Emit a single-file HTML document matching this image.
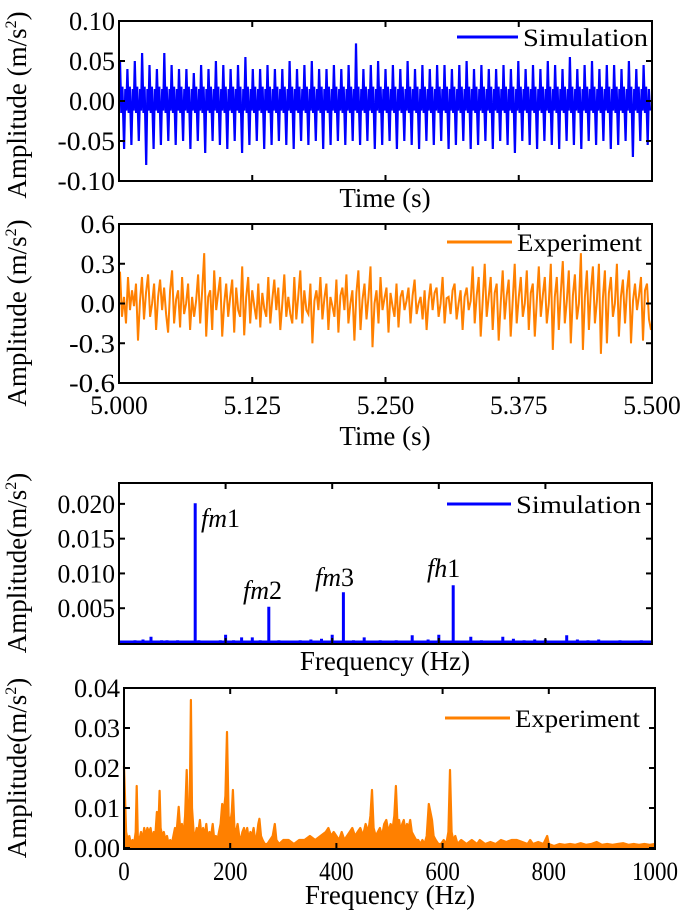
<!DOCTYPE html>
<html><head><meta charset="utf-8"><style>
body{margin:0;background:#fff}
svg text{font-family:"Liberation Serif",serif;fill:#000}
</style></head><body>
<svg id="chart" width="685" height="917" viewBox="0 0 685 917" xmlns="http://www.w3.org/2000/svg"></svg>
<script>
// ---- Data ----
const simPeaks=[0.05,0.04,0.05,0.06,0.045,0.04,0.06,0.045,0.04,0.04,0.035,0.045,0.04,0.05,0.045,0.04,0.045,0.055,0.04,0.04,0.045,0.04,0.04,0.05,0.04,0.045,0.05,0.04,0.04,0.045,0.04,0.045,0.072,0.04,0.045,0.05,0.04,0.045,0.04,0.05,0.04,0.045,0.04,0.045,0.045,0.04,0.045,0.05,0.04,0.045,0.04,0.04,0.045,0.04,0.05,0.04,0.045,0.04,0.05,0.045,0.04,0.055,0.04,0.045,0.05,0.04,0.045,0.045,0.04,0.05,0.04,0.045];
const simTroughs=[-0.06,-0.055,-0.05,-0.08,-0.06,-0.055,-0.05,-0.055,-0.05,-0.06,-0.05,-0.065,-0.05,-0.055,-0.06,-0.05,-0.065,-0.055,-0.05,-0.06,-0.055,-0.05,-0.055,-0.06,-0.05,-0.055,-0.05,-0.06,-0.055,-0.05,-0.055,-0.05,-0.055,-0.05,-0.06,-0.055,-0.05,-0.06,-0.05,-0.055,-0.06,-0.05,-0.055,-0.05,-0.06,-0.055,-0.05,-0.06,-0.055,-0.05,-0.06,-0.05,-0.055,-0.065,-0.05,-0.055,-0.06,-0.05,-0.055,-0.06,-0.05,-0.055,-0.06,-0.05,-0.055,-0.05,-0.06,-0.055,-0.05,-0.07,-0.05,-0.055];
const expValues=[0.24,-0.1,0.05,-0.15,0.2,-0.05,0.1,-0.02,0.15,-0.28,0.02,0.2,-0.12,0.08,0.22,-0.1,0.0,0.15,-0.2,0.05,0.18,-0.05,0.12,-0.08,-0.22,0.1,0.25,-0.15,0.03,0.1,-0.18,0.2,-0.08,0.0,0.15,-0.2,0.05,-0.1,0.02,0.22,-0.15,0.1,0.38,-0.25,0.05,0.1,-0.2,0.25,-0.05,0.08,0.2,-0.25,0.0,0.15,-0.1,0.05,0.18,-0.22,0.12,-0.05,-0.1,0.28,-0.24,0.05,0.2,-0.15,0.1,-0.02,-0.12,0.15,-0.18,0.08,-0.04,-0.1,0.2,-0.15,0.03,0.18,-0.05,0.12,-0.2,0.0,0.22,-0.1,0.05,-0.08,-0.15,0.2,-0.12,0.06,0.25,-0.15,0.1,-0.05,-0.08,0.15,-0.3,0.02,0.1,-0.05,0.2,-0.12,0.04,0.15,-0.2,0.05,-0.02,-0.1,0.18,-0.22,0.06,0.12,-0.05,0.22,-0.15,0.0,0.1,-0.28,0.08,0.25,-0.2,0.03,0.15,-0.12,0.05,0.28,-0.33,0.0,0.1,-0.15,0.2,-0.05,0.04,0.12,-0.22,0.08,-0.02,-0.1,0.15,-0.18,0.05,0.1,-0.05,0.02,0.12,-0.15,0.06,0.18,-0.08,0.0,0.05,-0.12,0.1,-0.2,0.02,0.15,-0.05,0.08,0.12,-0.1,0.0,0.2,-0.15,0.04,0.05,-0.08,0.1,0.15,-0.12,0.0,0.1,-0.2,0.05,0.12,-0.05,0.02,0.28,-0.15,0.06,0.2,-0.25,0.02,0.3,-0.1,0.05,0.2,-0.2,0.08,0.15,-0.28,0.0,0.25,-0.12,0.06,0.18,-0.25,0.02,0.3,-0.15,0.05,0.2,-0.1,0.0,0.25,-0.2,0.08,0.15,-0.25,0.02,0.28,-0.1,0.06,0.2,-0.15,0.0,0.3,-0.35,0.05,0.2,-0.2,0.08,0.32,-0.15,0.02,0.25,-0.3,0.06,0.22,-0.12,0.0,0.38,-0.35,0.05,0.25,-0.2,0.1,0.28,-0.15,0.02,0.3,-0.38,0.04,0.25,-0.3,0.08,0.2,-0.1,0.0,0.3,-0.25,0.05,0.18,-0.15,0.1,0.25,-0.3,0.02,0.15,-0.05,0.06,0.2,-0.28,0.1,0.15,-0.12,-0.2];
const specFreqs=[10,30,45,60,80,90,100,110,143,150,170,190,200,215,230,250,265,281,300,320,340,360,380,400,421,440,460,490,520,550,580,600,627,640,660,680,700,720,740,760,780,800,820,840,860,880,900,920,940,960,980];
const specAmps=[0.0003,0.0004,0.0005,0.0009,0.0004,0.0004,0.0003,0.0004,0.0201,0.0004,0.0003,0.0004,0.0012,0.0004,0.0008,0.0008,0.0004,0.0052,0.0004,0.0003,0.0004,0.0005,0.0006,0.0012,0.0073,0.0004,0.0008,0.0004,0.0004,0.0011,0.0005,0.0012,0.0083,0.0003,0.0009,0.0004,0.0003,0.0009,0.0006,0.0004,0.0005,0.0005,0.0003,0.0011,0.0005,0.0004,0.0005,0.0003,0.0004,0.0003,0.0004];
const expFreqs=[0,2,4,7,10,13,16,19,22,24,26,29,32,35,38,41,44,47,50,53,56,59,62,65,67,69,72,75,78,81,84,87,90,93,96,99,103,106,109,112,115,118,121,124,126,128,131,134,137,140,143,146,149,152,155,158,161,164,167,170,173,176,179,182,185,188,191,194,197,200,203,205,208,211,214,217,220,223,226,229,232,235,238,241,244,247,250,253,255,258,261,265,270,275,280,284,287,292,300,310,320,330,340,350,360,370,380,385,390,395,400,405,410,415,420,425,430,435,440,445,450,455,460,464,467,470,474,478,482,486,490,494,498,502,506,509,512,515,518,521,524,527,530,533,536,539,542,546,550,554,558,562,566,570,574,577,580,583,587,592,597,602,607,611,614,617,620,624,628,635,645,655,665,670,680,690,700,710,720,730,740,750,760,765,770,780,790,797,800,810,820,830,840,850,860,870,880,890,900,910,920,930,940,950,960,970,980,990,1000];
const expAmps=[0.0205,0.012,0.004,0.002,0.003,0.001,0.002,0.001,0.004,0.0155,0.003,0.002,0.004,0.002,0.005,0.003,0.005,0.004,0.005,0.002,0.004,0.003,0.009,0.006,0.0143,0.005,0.003,0.004,0.002,0.003,0.001,0.002,0.001,0.003,0.005,0.004,0.0103,0.004,0.006,0.003,0.008,0.0195,0.006,0.012,0.037,0.01,0.004,0.003,0.005,0.004,0.007,0.003,0.005,0.003,0.006,0.002,0.004,0.003,0.006,0.002,0.003,0.002,0.004,0.006,0.011,0.009,0.013,0.029,0.008,0.006,0.009,0.0145,0.005,0.004,0.006,0.003,0.002,0.004,0.005,0.003,0.005,0.002,0.004,0.003,0.005,0.002,0.003,0.006,0.0073,0.003,0.002,0.001,0.001,0.002,0.003,0.006,0.002,0.001,0.002,0.002,0.001,0.002,0.002,0.003,0.002,0.003,0.004,0.005,0.003,0.004,0.003,0.002,0.004,0.002,0.003,0.004,0.005,0.003,0.004,0.005,0.003,0.006,0.004,0.008,0.0145,0.005,0.003,0.004,0.005,0.003,0.006,0.007,0.004,0.006,0.005,0.008,0.0155,0.006,0.007,0.004,0.006,0.007,0.004,0.006,0.005,0.007,0.004,0.003,0.002,0.002,0.001,0.002,0.001,0.003,0.011,0.009,0.007,0.003,0.002,0.001,0.001,0.002,0.001,0.004,0.0195,0.004,0.002,0.003,0.001,0.002,0.001,0.002,0.001,0.002,0.001,0.0015,0.001,0.002,0.0015,0.002,0.002,0.0015,0.001,0.002,0.001,0.0015,0.001,0.003,0.001,0.0005,0.001,0.0008,0.001,0.0008,0.0012,0.0008,0.001,0.0015,0.0008,0.001,0.0008,0.001,0.0012,0.0008,0.001,0.0008,0.001,0.0008,0.001];
const timeTicks=["5.000","5.125","5.250","5.375","5.500"];
const freqTicks=["0","200","400","600","800","1000"];

const NS="http://www.w3.org/2000/svg";
const svg=document.getElementById('chart');
function mk(tag,attrs,parent){const e=document.createElementNS(NS,tag);for(const k in attrs)e.setAttribute(k,attrs[k]);(parent||svg).appendChild(e);return e;}
function scale(d0,d1,r0,r1){return v=>r0+(v-d0)/(d1-d0)*(r1-r0);}

function frame(x0,x1,y0,y1,yTicks,yLabels,xTickVals,xLabels,name){
  const g=mk('g',{});
  
  
  const r=mk('rect',{x:x0,y:y0,width:x1-x0,height:y1-y0,fill:'none',stroke:'#000','stroke-width':2},g);
  
  
  yTicks.forEach((y,i)=>{
    mk('line',{x1:x0,x2:x0+6,y1:y,y2:y,stroke:'#000','stroke-width':2},g);
    mk('line',{x1:x1,x2:x1-6,y1:y,y2:y,stroke:'#000','stroke-width':2},g);
    const t=mk('text',{x:x0-4,y:y+9,'text-anchor':'end','font-size':26,textLength:yLabels[i].length*11.5,lengthAdjust:'spacingAndGlyphs'},g);
    t.textContent=yLabels[i];
    
    
  });
  xTickVals.forEach((x,i)=>{
    mk('line',{x1:x,x2:x,y1:y1,y2:y1-6,stroke:'#000','stroke-width':2},g);
    mk('line',{x1:x,x2:x,y1:y0,y2:y0+6,stroke:'#000','stroke-width':2},g);
    if(xLabels){const t=mk('text',{x:x,y:y1+31,'text-anchor':'middle','font-size':26,textLength:xLabels[i].length*11.5,lengthAdjust:'spacingAndGlyphs'},g);t.textContent=xLabels[i];
      
      }
  });
}
function text(x,y,s,size,name,extra){const t=mk('text',Object.assign({x:x,y:y,'font-size':size},extra||{}));t.innerHTML=s;
  
  return t;}
function legend(x0,x1,y,color,label,name){
  const l=mk('line',{x1:x0,x2:x1,y1:y,y2:y,stroke:color,'stroke-width':3});
  
  
  text(x1+5,y+9,label,25,name+'-label',{textLength:125,lengthAdjust:'spacingAndGlyphs'});
}
function ytitle(cx,cy,s,name){text(0,0,s,27,name,{'text-anchor':'middle',transform:`translate(${cx},${cy}) rotate(-90)`});}

// Panel 1: simulation time
{
  const x0=119,x1=652,y0=21,y1=181;
  const sy=scale(-0.1,0.1,y1,y0);
  const n=simPeaks.length, sx=scale(0,n,x0+1,x1-1);
  let d='';
  for(let i=0;i<n;i++){
    const pts=[[i,simPeaks[i]],[i+0.18,-0.015],[i+0.33,0.018],[i+0.55,simTroughs[i]],[i+0.72,0.015],[i+0.86,-0.012]];
    pts.forEach((p,j)=>{d+=(i===0&&j===0?'M':'L')+sx(p[0]).toFixed(1)+','+sy(p[1]).toFixed(1);});
  }
  const p=mk('path',{d:d,fill:'none',stroke:'#0000ff','stroke-width':2.2});
  
  
  frame(x0,x1,y0,y1,[0.1,0.05,0,-0.05,-0.1].map(sy),["0.10","0.05","0.00","-0.05","-0.10"],timeTicks.map((t,i)=>x0+i*(x1-x0)/4),null,'sim-time');
  legend(457,518,37,'#0000ff','Simulation','sim-time-legend');
  text(385,207,'Time (s)',27,'x-axis-title-1',{'text-anchor':'middle'});
  ytitle(26,105,'Amplitude (m/s<tspan dy="-10" font-size="16">2</tspan><tspan dy="10">)</tspan>','y-axis-title-1');
}
// Panel 2: experiment time
{
  const x0=119,x1=652,y0=224,y1=383;
  const sy=scale(-0.6,0.6,y1,y0);
  const n=expValues.length, sx=scale(0,n-1,x0+1,x1-1);
  const d=expValues.map((v,i)=>(i?'L':'M')+sx(i).toFixed(1)+','+sy(v).toFixed(1)).join('');
  const p=mk('path',{d:d,fill:'none',stroke:'#ff8000','stroke-width':2});
  
  
  frame(x0,x1,y0,y1,[0.6,0.3,0,-0.3,-0.6].map(sy),["0.6","0.3","0.0","-0.3","-0.6"],timeTicks.map((t,i)=>x0+i*(x1-x0)/4),timeTicks,'exp-time');
  legend(447,512,242,'#ff8000','Experiment','exp-time-legend');
  text(385,445,'Time (s)',27,'x-axis-title-2',{'text-anchor':'middle'});
  ytitle(26,313,'Amplitude (m/s<tspan dy="-10" font-size="16">2</tspan><tspan dy="10">)</tspan>','y-axis-title-2');
}
// Panel 3: simulation spectrum
{
  const x0=119,x1=652,y0=483,y1=644;
  const sy=scale(0,0.023,y1-1,y0), sx=scale(0,1000,x0,x1);
  let d='M'+(x0+1)+','+(y1-2);
  specFreqs.forEach((f,i)=>{const x=sx(f).toFixed(1);d+='L'+x+','+(y1-2)+'L'+x+','+sy(specAmps[i]).toFixed(1)+'L'+x+','+(y1-2);});
  d+='L'+(x1-1)+','+(y1-2);
  const p=mk('path',{d:d,fill:'none',stroke:'#0000ff','stroke-width':3});
  
  
  frame(x0,x1,y0,y1,[0.02,0.015,0.01,0.005].map(sy),["0.020","0.015","0.010","0.005"],[200,400,600,800].map(sx),null,'sim-freq');
  legend(447,511,504,'#0000ff','Simulation','sim-freq-legend');
  const ann=[['fm','1',201,527],['fm','2',243,599],['fm','3',315,586],['fh','1',427,577]];
  ann.forEach((a,i)=>text(a[2],a[3],'<tspan font-style="italic">'+a[0]+'</tspan>'+a[1],26,'peak-label-'+a[0]+a[1]));
  text(385,670,'Frequency (Hz)',27,'x-axis-title-3',{'text-anchor':'middle'});
  ytitle(26,563,'Amplitude(m/s<tspan dy="-10" font-size="16">2</tspan><tspan dy="10">)</tspan>','y-axis-title-3');
}
// Panel 4: experiment spectrum
{
  const x0=124,x1=655,y0=688,y1=849;
  const sy=scale(0,0.04,y1-1,y0), sx=scale(0,1000,x0,x1);
  const d=expFreqs.map((f,i)=>(i?'L':'M')+sx(f).toFixed(1)+','+sy(expAmps[i]).toFixed(1)).join('')+'L'+(x1-1)+','+(y1-1)+'L'+(x0+1)+','+(y1-1)+'Z';
  const p=mk('path',{d:d,fill:'#ff8000',stroke:'#ff8000','stroke-width':2.2,'stroke-linejoin':'round'});
  
  
  frame(x0,x1,y0,y1,[0.04,0.03,0.02,0.01,0].map(sy),["0.04","0.03","0.02","0.01","0.00"],[0,200,400,600,800,1000].map(sx),freqTicks,'exp-freq');
  legend(445,510,718,'#ff8000','Experiment','exp-freq-legend');
  text(390,904,'Frequency (Hz)',27,'x-axis-title-4',{'text-anchor':'middle'});
  ytitle(26,768,'Amplitude(m/s<tspan dy="-10" font-size="16">2</tspan><tspan dy="10">)</tspan>','y-axis-title-4');
}
</script>
</body></html>
